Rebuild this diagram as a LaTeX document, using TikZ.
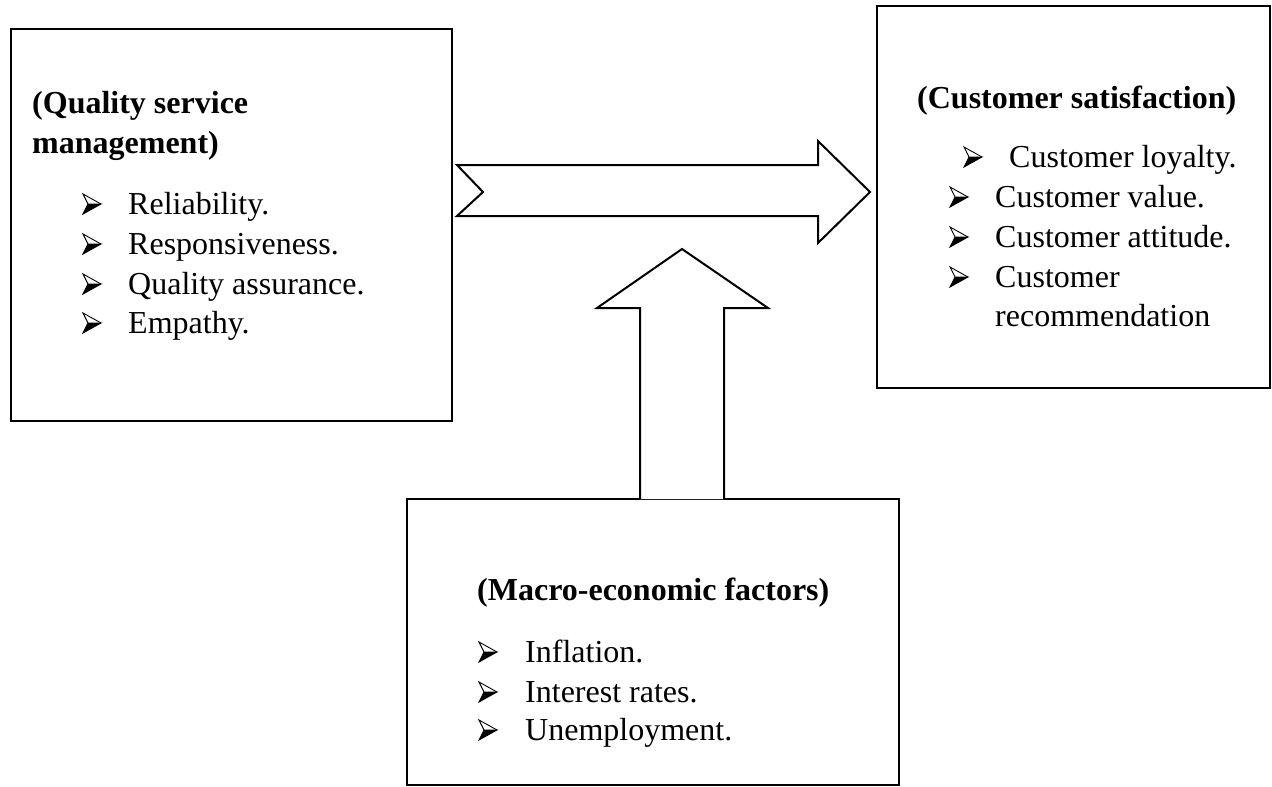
\documentclass[tikz,border=0pt]{standalone}
\usepackage{fontspec}
\setmainfont{Liberation Serif}
\begin{document}
\begin{tikzpicture}[x=1pt,y=-1pt,
  box/.style={draw=black,line width=2pt,rectangle,inner sep=0pt},
  blockarrow/.style={draw=black,line width=2pt,fill=white,line join=miter},
  txt/.style={anchor=base west,inner sep=0pt,font=\fontsize{32}{40}\selectfont},
  head/.style={txt,font=\fontsize{32}{40}\selectfont\bfseries},
  bul/.pic={
    \draw[black,line width=0.9pt,line join=miter] (18,-10) -- (0,-20) -- (5,-10);
    \filldraw[black,line width=0.9pt,line join=miter] (18,-10) -- (5,-10) -- (0,0) -- cycle;
  }]
\useasboundingbox (0,0) rectangle (1272,787);
% boxes
\node[box,minimum width=441pt,minimum height=392pt] (qsm) at (231.5,225) {};
\node[box,minimum width=393pt,minimum height=382pt] (cs) at (1073.5,197) {};
\node[box,minimum width=492pt,minimum height=286pt] (mef) at (653,642) {};
% right block arrow
\draw[blockarrow] (457,165) -- (818,165) -- (818,141) -- (870,192) -- (818,243) -- (818,216)
  -- (457,216) -- (483,192) -- cycle;
% up block arrow
\draw[blockarrow] (640,499) -- (640,308) -- (597,308) -- (682,249) -- (768,308)
  -- (724,308) -- (724,499);
% left box text
\node[head] (q1) at (32,113) {(Quality service};
\node[head] (q2) at (32,153) {management)};
\pic at (83,214) {bul}; \node[txt] (q3) at (128,214) {Reliability.};
\pic at (83,254) {bul}; \node[txt] (q4) at (128,254) {Responsiveness.};
\pic at (83,294) {bul}; \node[txt] (q5) at (128,294) {Quality assurance.};
\pic at (83,333) {bul}; \node[txt] (q6) at (128,333) {Empathy.};
% right box text
\node[head] (c1) at (917,108) {(Customer satisfaction)};
\pic at (964,167) {bul}; \node[txt] (c2) at (1009,167) {Customer loyalty.};
\pic at (950,207) {bul}; \node[txt] (c3) at (995,207) {Customer value.};
\pic at (950,247) {bul}; \node[txt] (c4) at (995,247) {Customer attitude.};
\pic at (950,287) {bul}; \node[txt] (c5) at (995,287) {Customer};
\node[txt] (c6) at (995,326) {recommendation};
% bottom box text
\node[head] (m1) at (477,600) {(Macro-economic factors)};
\pic at (479,662) {bul}; \node[txt] (m2) at (525,662) {Inflation.};
\pic at (479,702) {bul}; \node[txt] (m3) at (525,702) {Interest rates.};
\pic at (479,740) {bul}; \node[txt] (m4) at (525,740) {Unemployment.};
\end{tikzpicture}
\end{document}
